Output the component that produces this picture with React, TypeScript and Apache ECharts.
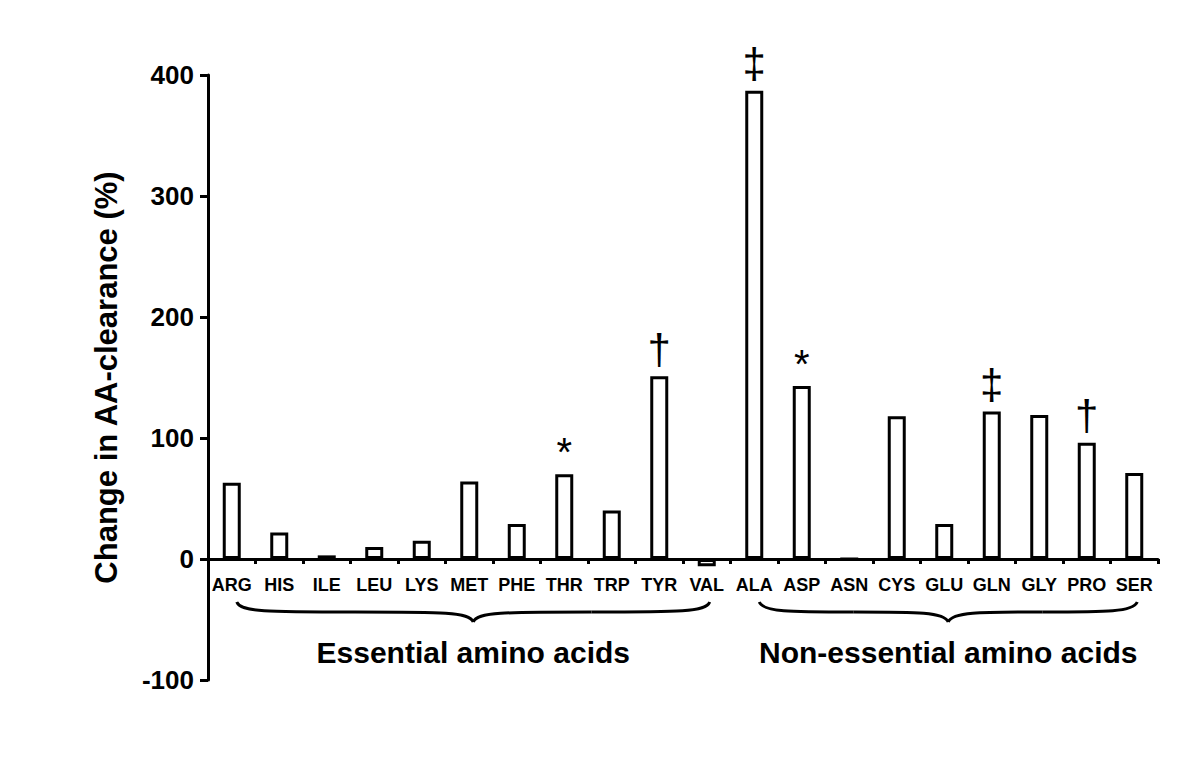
import React, { useEffect, useRef } from "react";
import * as echarts from "echarts";

const categories = ["ARG", "HIS", "ILE", "LEU", "LYS", "MET", "PHE", "THR", "TRP", "TYR", "VAL",
  "ALA", "ASP", "ASN", "CYS", "GLU", "GLN", "GLY", "PRO", "SER"];
const values = [63, 22, 3, 10, 15, 64, 29, 70, 40, 151, -6,
  387, 143, 0, 118, 29, 122, 119, 96, 71];
const marks = ["", "", "", "", "", "", "", "*", "", "†", "",
  "‡", "*", "", "", "", "‡", "", "†", ""];
const yTicks = { min: -100, max: 400, interval: 100 };
const groups = [
  { name: "Essential amino acids", from: 0, to: 10 },
  { name: "Non-essential amino acids", from: 11, to: 19 },
];
const yTitle = "Change in AA-clearance (%)";

const FONT = "'Liberation Sans', Arial, sans-serif";

export default function App() {
  const ref = useRef<HTMLDivElement>(null);
  useEffect(() => {
    const chart = echarts.init(ref.current!, null, { renderer: "svg" });
    const gridBottom = 103;
    chart.setOption({
      animation: false,
      backgroundColor: "#ffffff",
      grid: { left: 208, right: 42, top: 75, bottom: gridBottom },
      xAxis: {
        type: "category",
        data: categories,
        axisLine: { onZero: false, lineStyle: { color: "#000", width: 3 } },
        axisTick: { show: true, length: 5, lineStyle: { color: "#000", width: 3 } },
        axisLabel: { color: "#000", fontFamily: FONT, fontWeight: "bold", fontSize: 18, margin: 17, interval: 0 },
      },
      yAxis: {
        type: "value",
        min: yTicks.min,
        max: yTicks.max,
        interval: yTicks.interval,
        splitLine: { show: false },
        axisLine: { show: true, lineStyle: { color: "#000", width: 3 } },
        axisTick: { show: true, length: 8, lineStyle: { color: "#000", width: 3 } },
        axisLabel: { color: "#000", fontFamily: FONT, fontWeight: "bold", fontSize: 26, margin: 14 },
        name: yTitle,
        nameLocation: "middle",
        nameGap: 86,
        nameRotate: 90,
        nameTextStyle: { color: "#000", fontFamily: FONT, fontWeight: "bold", fontSize: 31 },
      },
      series: [
        {
          type: "bar",
          barWidth: 18,
          data: values.map((v, i) => ({
            value: v,
            label: {
              show: marks[i] !== "",
              position: "top",
              formatter: marks[i],
              distance: marks[i] === "*" ? 2 : 6,
              fontFamily: FONT,
              fontSize: marks[i] === "*" ? 40 : 42,
              color: "#000",
            },
          })),
          itemStyle: { color: "#fff", borderColor: "#000", borderWidth: 3 },
        },
      ],
    });

    const zeroY = chart.convertToPixel({ yAxisIndex: 0 }, 0) as number;
    const bottomY = 783 - gridBottom;
    const px = (i: number) => chart.convertToPixel({ xAxisIndex: 0 }, categories[i]) as number;
    const y0 = 602;
    const y1 = 612;
    const y2 = 622;
    const graphic: any[] = [];
    groups.forEach((g) => {
      const xa = px(g.from) + 5;
      const xb = px(g.to) + 3;
      const xm = (xa + xb) / 2;
      const ql = (xa + xm) / 2;
      const qr = (xm + xb) / 2;
      const style = { stroke: "#000", lineWidth: 3, fill: "none" };
      graphic.push(
        { type: "bezierCurve", shape: { x1: xa, y1: y0, cpx1: xa + 4, cpy1: y1, cpx2: xa + 30, cpy2: y1, x2: ql, y2: y1 }, style },
        { type: "bezierCurve", shape: { x1: ql, y1: y1, cpx1: xm - 30, cpy1: y1, cpx2: xm - 4, cpy2: y1, x2: xm, y2: y2 }, style },
        { type: "bezierCurve", shape: { x1: xm, y1: y2, cpx1: xm + 4, cpy1: y1, cpx2: xm + 30, cpy2: y1, x2: qr, y2: y1 }, style },
        { type: "bezierCurve", shape: { x1: qr, y1: y1, cpx1: xb - 30, cpy1: y1, cpx2: xb - 4, cpy2: y1, x2: xb, y2: y0 }, style },
        {
          type: "text",
          x: xm,
          y: 652,
          style: {
            text: g.name,
            fontFamily: FONT,
            fontWeight: "bold",
            fontSize: 30,
            fill: "#000",
            align: "center",
            verticalAlign: "middle",
          },
        }
      );
    });
    chart.setOption({ xAxis: { offset: -(bottomY - zeroY) }, graphic });
    return () => chart.dispose();
  }, []);
  return <div ref={ref} style={{ width: 1200, height: 783, position: "absolute", left: 0, top: 0 }} />;
}
